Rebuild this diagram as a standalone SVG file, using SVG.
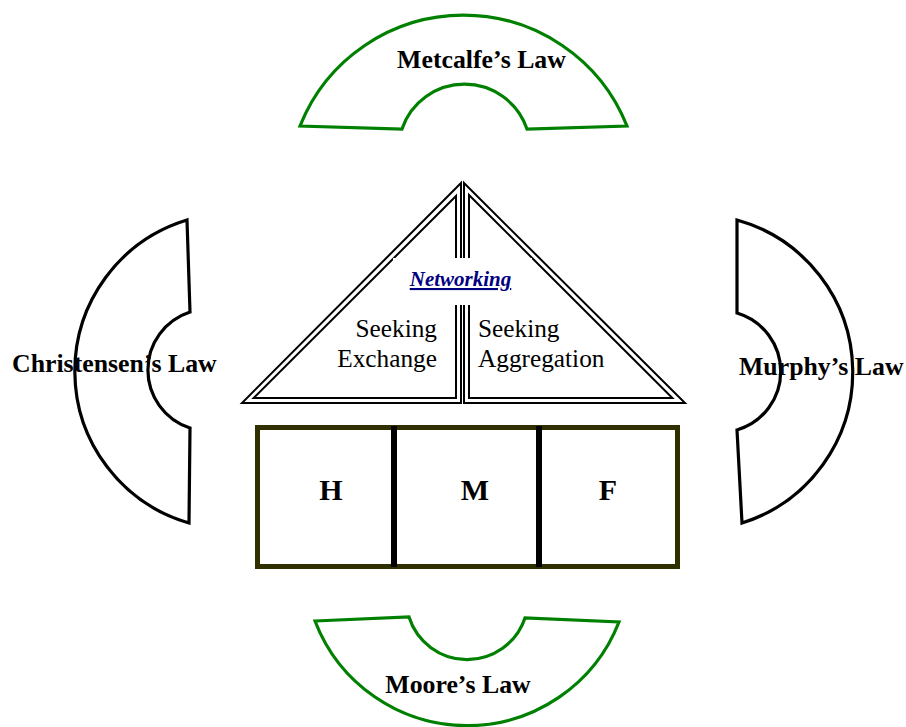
<svg xmlns="http://www.w3.org/2000/svg" width="906" height="727" viewBox="0 0 906 727">
<style>
.green{fill:#fff;stroke:#008000;stroke-width:3.2;stroke-linejoin:miter}
.black{fill:#fff;stroke:#000;stroke-width:3.2;stroke-linejoin:miter}
.tri{fill:none;stroke:#000;stroke-width:2}
.lbl{font-family:"Liberation Serif","Times New Roman",serif;font-weight:bold;font-size:25.8px;fill:#000}
.reg{font-family:"Liberation Serif","Times New Roman",serif;font-size:25.3px;fill:#000}
.big{font-family:"Liberation Serif","Times New Roman",serif;font-weight:bold;font-size:30px;fill:#000;text-anchor:middle}
</style>
<rect width="906" height="727" fill="#fff"/>
<g id="metcalfe">
<path class="green" d="M300,126 A176,176 0 0 1 627,126 L527,129 A66,66 0 0 0 402,129 Z"/>
<text class="lbl" x="481.5" y="68" text-anchor="middle">Metcalfe’s Law</text>
</g>
<g id="moore">
<path class="green" d="M315,621 L409,617 A61,61 0 0 0 525,618 L619,622 A163,163 0 0 1 315,621 Z"/>
<text class="lbl" x="458" y="693" text-anchor="middle">Moore’s Law</text>
</g>
<g id="christensen">
<path class="black" d="M187,220 L190,312 A61,61 0 0 0 190,428 L189,523 A158,158 0 0 1 187,220 Z"/>
<text class="lbl" x="12" y="372">Christensen’s Law</text>
</g>
<g id="murphy">
<path class="black" d="M737,220 A158,158 0 0 1 742,523 L737,430 A61,61 0 0 0 737,313 Z"/>
<text class="lbl" x="739" y="375">Murphy’s Law</text>
</g>
<g id="networking">
<path class="tri" d="M461,183 L242,403 L461,403 Z"/>
<path class="tri" d="M456,196 L253.6,398 L456,398 Z"/>
<path class="tri" d="M464,183 L685,403 L464,403 Z"/>
<path class="tri" d="M469,195 L672.4,398 L469,398 Z"/>
<rect x="393" y="258" width="139" height="47" fill="#fff"/>
<text x="460.5" y="286" text-anchor="middle" font-family="Liberation Serif, Times New Roman, serif" font-weight="bold" font-style="italic" font-size="21" fill="#000080" text-decoration="underline">Networking</text>
<text class="reg" x="437" y="337" text-anchor="end">Seeking</text>
<text class="reg" x="437" y="367" text-anchor="end">Exchange</text>
<text class="reg" x="478" y="337">Seeking</text>
<text class="reg" x="478" y="367">Aggregation</text>
</g>
<g id="hmf">
<rect x="257.5" y="427.5" width="420" height="139" fill="#fff" stroke="#2f2f00" stroke-width="5"/>
<line x1="394" y1="426" x2="394" y2="567" stroke="#000" stroke-width="6"/>
<line x1="539" y1="426" x2="539" y2="567" stroke="#000" stroke-width="6"/>
<text class="big" x="331" y="500">H</text>
<text class="big" x="475" y="500">M</text>
<text class="big" x="608" y="500">F</text>
</g>
</svg>
